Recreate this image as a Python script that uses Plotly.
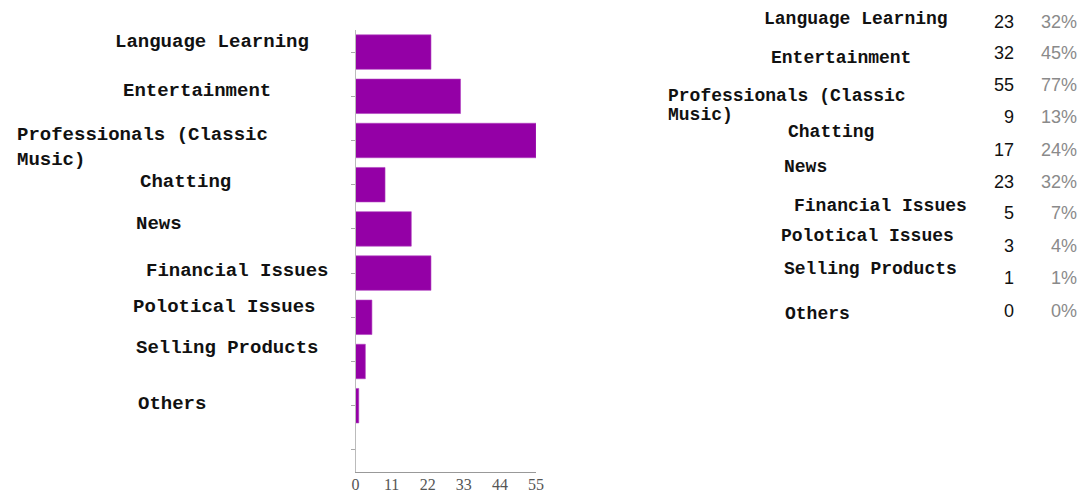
import plotly.graph_objects as go

W, H = 1083, 493

categories = ["Language Learning", "Entertainment", "Professionals (Classic Music)", "Chatting",
              "News", "Financial Issues", "Polotical Issues", "Selling Products", "Others", "(blank)"]
counts = [23, 32, 55, 9, 17, 23, 5, 3, 1, 0]
x_ticks = [0, 11, 22, 33, 44, 55]

# right-hand summary table (as it appears in the picture)
table_counts = [23, 32, 55, 9, 17, 23, 5, 3, 1, 0]
table_pcts = ["32%", "45%", "77%", "13%", "24%", "32%", "7%", "4%", "1%", "0%"]

# label texts drawn left of the bars (pixel anchors of the original layout)
left_labels = ["Language Learning", "Entertainment", "Professionals (Classic", "Music)", "Chatting",
               "News", "Financial Issues", "Polotical Issues", "Selling Products", "Others"]
left_pos = [(113, 42), (121, 91), (15, 135), (15, 160), (138, 182), (134, 224),
            (144, 271), (131, 307), (134, 348), (136, 404)]

right_labels = ["Language Learning", "Entertainment", "Professionals (Classic", "Music)", "Chatting",
                "News", "Financial Issues", "Polotical Issues", "Selling Products", "Others"]
right_pos = [(762, 19), (769, 58), (666, 96), (666, 115), (786, 132), (782, 167),
             (792, 206), (779, 236), (782, 269), (783, 314)]
table_y = [22, 53, 85, 117, 150, 182, 213, 246, 278, 311]

fig = go.Figure(go.Bar(
    x=counts, y=categories, orientation="h",
    marker=dict(color="#9400A6", line=dict(color="#B040C0", width=0.6)),
    hoverinfo="x+y",
))

def px(x):
    return x / W

def py(y):
    return 1 - y / H

ann = []
lab_font = dict(family="Liberation Mono", size=19, color="#111111")
for t, (x, y) in zip(left_labels, left_pos):
    ann.append(dict(text="<b>%s</b>" % t, x=px(x), y=py(y), xref="paper", yref="paper",
                    xanchor="left", yanchor="middle", showarrow=False, font=lab_font))
rfont = dict(family="Liberation Mono", size=18, color="#111111")
for t, (x, y) in zip(right_labels, right_pos):
    ann.append(dict(text="<b>%s</b>" % t, x=px(x), y=py(y), xref="paper", yref="paper",
                    xanchor="left", yanchor="middle", showarrow=False, font=rfont))
for c, p, y in zip(table_counts, table_pcts, table_y):
    ann.append(dict(text=str(c), x=px(1016), y=py(y), xref="paper", yref="paper",
                    xanchor="right", yanchor="middle", showarrow=False,
                    font=dict(family="Liberation Sans", size=18, color="#111111")))
    ann.append(dict(text=p, x=px(1079), y=py(y), xref="paper", yref="paper",
                    xanchor="right", yanchor="middle", showarrow=False,
                    font=dict(family="Liberation Sans", size=18, color="#8a8a8a")))

fig.update_layout(
    template="none",
    width=W, height=H,
    margin=dict(l=0, r=0, t=0, b=0),
    paper_bgcolor="white", plot_bgcolor="white",
    bargap=0.22,
    showlegend=False,
    annotations=ann,
    xaxis=dict(domain=[355.5 / W, 536 / W], range=[0, 55], tickvals=x_ticks,
               showgrid=False, zeroline=False, showline=True, linecolor="#999999", linewidth=1,
               ticks="", ticklabelstandoff=-2,
               tickfont=dict(family="Liberation Serif", size=16, color="#555555"),
               automargin=False),
    yaxis=dict(domain=[1 - 472 / H, 1 - 30 / H], categoryorder="array", categoryarray=categories,
               autorange="reversed", showticklabels=False,
               showgrid=False, zeroline=False, showline=True, linecolor="#bbbbbb", linewidth=1,
               ticks="outside", ticklen=4, tickcolor="#aaaaaa", automargin=False),
)

fig.write_html("out.html")
